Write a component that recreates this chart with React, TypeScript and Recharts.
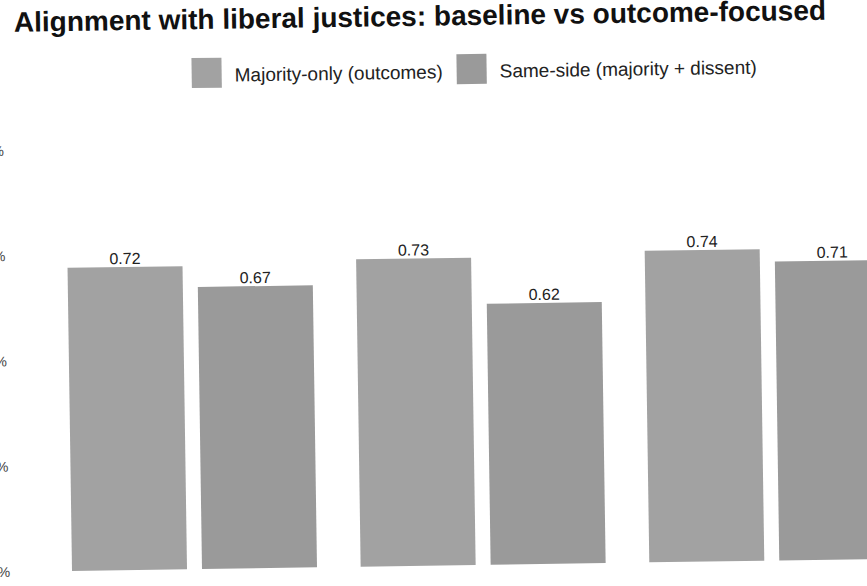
import React from 'react';
import { BarChart, Bar, XAxis, YAxis, Legend, LabelList } from 'recharts';

const categories = ['Condition A', 'Condition B', 'Condition C'];
const majorityOnly = [0.72, 0.73, 0.74];
const sameSide = [0.67, 0.62, 0.71];
const yTicks = [0, 0.25, 0.5, 0.75, 1];
const seriesNames = ['Majority-only (outcomes)', 'Same-side (majority + dissent)'];
const seriesColors = ['#a2a2a2', '#9a9a9a'];
const title = 'Alignment with liberal justices: baseline vs outcome-focused';

const data = categories.map((c, i) => ({
  category: c,
  majority: majorityOnly[i],
  sameSide: sameSide[i],
}));

const FONT = '"Liberation Sans", Arial, Helvetica, sans-serif';

const renderLegend = (props: any) => {
  const payload = props.payload || [];
  return (
    <div style={{ display: 'flex', alignItems: 'center', fontFamily: FONT, fontSize: 19, color: '#222', whiteSpace: 'nowrap' }}>
      {payload.map((entry: any, i: number) => (
        <div key={i} style={{ display: 'flex', alignItems: 'center', marginRight: 14 }}>
          <span style={{ display: 'inline-block', width: 30, height: 30, background: entry.color, marginRight: 13 }} />
          <span style={{ position: 'relative', top: 2, lineHeight: '19px' }}>{entry.value}</span>
        </div>
      ))}
    </div>
  );
};

export default function App() {
  return (
    <div style={{ position: 'fixed', left: 0, top: 0, width: 867, height: 586, overflow: 'hidden', background: '#fff' }}>
      <div
        style={{
          position: 'absolute',
          left: 0,
          top: 0,
          width: 867,
          height: 586,
          transform: 'rotate(-0.85deg)',
          transformOrigin: '0px 570px',
        }}
      >
        <div
          style={{
            position: 'absolute',
            left: 22,
            top: 9,
            fontFamily: FONT,
            fontWeight: 'bold',
            fontSize: 28,
            lineHeight: '28px',
            color: '#111',
            whiteSpace: 'nowrap',
          }}
        >
          {title}
        </div>
        <div style={{ position: 'absolute', left: -60, top: 0 }}>
          <BarChart
            width={976}
            height={602}
            data={data}
            margin={{ top: 151, right: 0, bottom: 0, left: 0 }}
            barCategoryGap={22}
            barGap={15}
            style={{ fontFamily: FONT }}
          >
            <XAxis dataKey="category" axisLine={false} tickLine={false} tick={false} height={30} />
            <YAxis
              domain={[0, 1]}
              ticks={yTicks}
              tickFormatter={(v: number) => `${Math.round(v * 100)}%`}
              width={110}
              axisLine={false}
              tickLine={false}
              tickMargin={34}
              tick={{ fontSize: 14, fill: '#444' }}
            />
            <Legend
              layout="horizontal"
              verticalAlign="middle"
              align="center"
              content={renderLegend}
              wrapperStyle={{ top: 61, left: 259, width: 'auto', height: 'auto', bottom: 'auto', right: 'auto' }}
            />
            <Bar dataKey="majority" name={seriesNames[0]} fill={seriesColors[0]} isAnimationActive={false}>
              <LabelList dataKey="majority" position="top" offset={3} style={{ fontSize: 16, fill: '#222' }} />
            </Bar>
            <Bar dataKey="sameSide" name={seriesNames[1]} fill={seriesColors[1]} isAnimationActive={false}>
              <LabelList dataKey="sameSide" position="top" offset={3} style={{ fontSize: 16, fill: '#222' }} />
            </Bar>
          </BarChart>
        </div>
      </div>
    </div>
  );
}
